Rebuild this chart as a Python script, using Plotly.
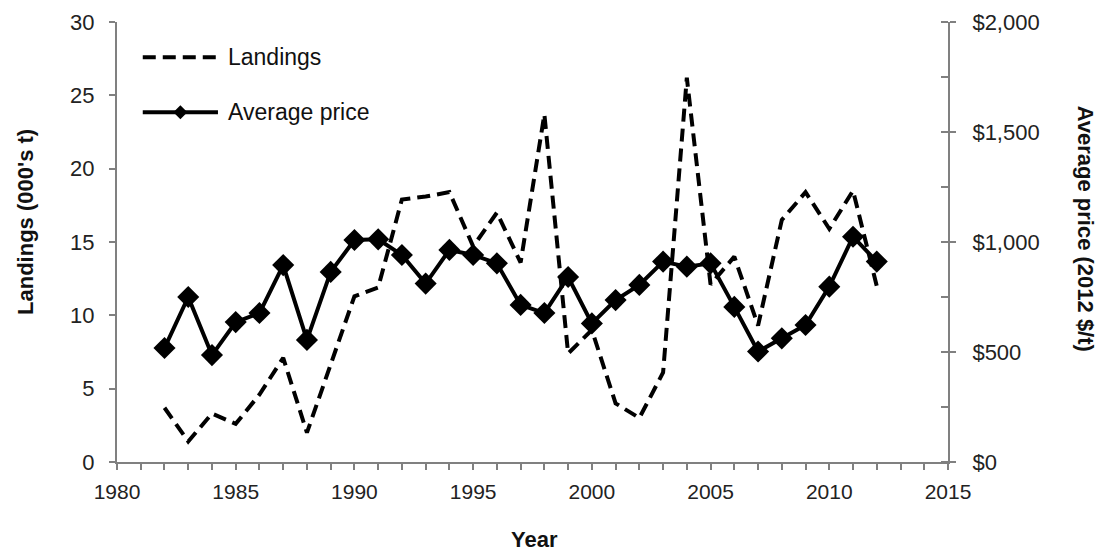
import plotly.graph_objects as go

years = list(range(1982, 2013))
landings = [3.7, 1.4, 3.3, 2.6, 4.6, 7.1, 2.0, 6.6, 11.3, 11.9, 17.9, 18.1, 18.4, 14.7,
            17.0, 13.6, 23.7, 7.4, 9.0, 4.0, 3.0, 6.1, 26.2, 12.1, 14.0, 9.3, 16.5, 18.4,
            15.9, 18.5, 12.0]
price = [518, 750, 486, 636, 677, 895, 555, 864, 1009, 1012, 941, 811, 964, 941,
         903, 714, 677, 841, 630, 736, 805, 911, 888, 903, 705, 502, 562, 623,
         797, 1024, 911]
legend_names = ["Landings", "Average price"]

FONT = "Liberation Sans, Arial, sans-serif"
TICKC = "#222222"
AXC = "#808080"
DASH = "13px,7px"

fig = go.Figure()
fig.add_trace(go.Scatter(
    x=years, y=landings, name=legend_names[0], mode="lines",
    line=dict(color="black", width=4, dash=DASH), yaxis="y", showlegend=False))
fig.add_trace(go.Scatter(
    x=years, y=price, name=legend_names[1], mode="lines+markers",
    line=dict(color="black", width=4),
    marker=dict(symbol="diamond", size=17, color="black"), yaxis="y2", showlegend=False))

tick_common = dict(showgrid=False, zeroline=False, showline=True, linecolor=AXC, linewidth=2,
                   tickcolor=AXC, tickwidth=1.5)

# page body has an 8px margin; figure sized so the plot area lands at the reference pixels
fig.update_layout(
    width=1101, height=545,
    margin=dict(l=109, r=161, t=14, b=91, autoexpand=False),
    paper_bgcolor="white", plot_bgcolor="white",
    font=dict(family=FONT, size=22, color=TICKC),
    showlegend=False,
    xaxis=dict(range=[1980, 2015], dtick=5, tick0=1980, ticks="outside", ticklen=6,
               minor=dict(dtick=1, ticks="outside", ticklen=6, tickcolor=AXC, tickwidth=1.5),
               tickfont=dict(size=21, color=TICKC), ticklabelstandoff=4, **tick_common),
    xaxis2=dict(range=[1980, 2015], overlaying="x", anchor="y", side="bottom",
                dtick=5, tick0=1980, ticks="inside", ticklen=6, showticklabels=False,
                minor=dict(dtick=1, ticks="inside", ticklen=6, tickcolor=AXC, tickwidth=1.5),
                **tick_common),
    yaxis=dict(range=[0, 30], dtick=5, ticks="outside", ticklen=6,
               tickfont=dict(size=22, color=TICKC), ticklabelstandoff=10, **tick_common),
    yaxis2=dict(range=[0, 2000], dtick=500, overlaying="y", side="right",
                ticks="outside", ticklen=6,
                minor=dict(dtick=250, ticks="inside", ticklen=7, tickcolor=AXC, tickwidth=1.5),
                tickprefix="$", tickformat=",d", ticklabelstandoff=12,
                tickfont=dict(size=22, color=TICKC), **tick_common),
)

# axis titles
fig.add_annotation(text="<b>Landings (000's t)</b>", xref="paper", yref="paper",
                   x=-0.111, y=0.545, xanchor="center", yanchor="middle", textangle=-90,
                   showarrow=False, font=dict(size=22, color="#111111"))
fig.add_annotation(text="<b>Average price (2012 $/t)</b>", xref="paper", yref="paper",
                   x=1.165, y=0.53, xanchor="center", yanchor="middle", textangle=90,
                   showarrow=False, font=dict(size=22, color="#111111"))
fig.add_annotation(text="<b>Year</b>", xref="paper", yref="paper",
                   x=0.502, y=-0.177, xanchor="center", yanchor="middle",
                   showarrow=False, font=dict(size=22, color="#111111"))

# custom legend
lx0, lx1, ltext = 0.031, 0.1215, 0.131
ly = [0.92, 0.795]
fig.add_shape(type="line", xref="paper", yref="paper", x0=lx0, x1=lx1, y0=ly[0], y1=ly[0],
              line=dict(color="black", width=4, dash=DASH))
fig.add_shape(type="line", xref="paper", yref="paper", x0=lx0, x1=lx1, y0=ly[1], y1=ly[1],
              line=dict(color="black", width=4))
fig.add_shape(type="path", xref="paper", yref="paper", xsizemode="pixel", ysizemode="pixel",
              xanchor=(lx0 + lx1) / 2, yanchor=ly[1],
              path="M -7 0 L 0 7 L 7 0 L 0 -7 Z", fillcolor="black", line=dict(width=0))
for name, y in zip(legend_names, ly):
    fig.add_annotation(text=name, xref="paper", yref="paper", x=ltext, y=y,
                       xanchor="left", yanchor="middle", showarrow=False,
                       font=dict(size=23, color="#111111"))

fig.write_html("out.html")
